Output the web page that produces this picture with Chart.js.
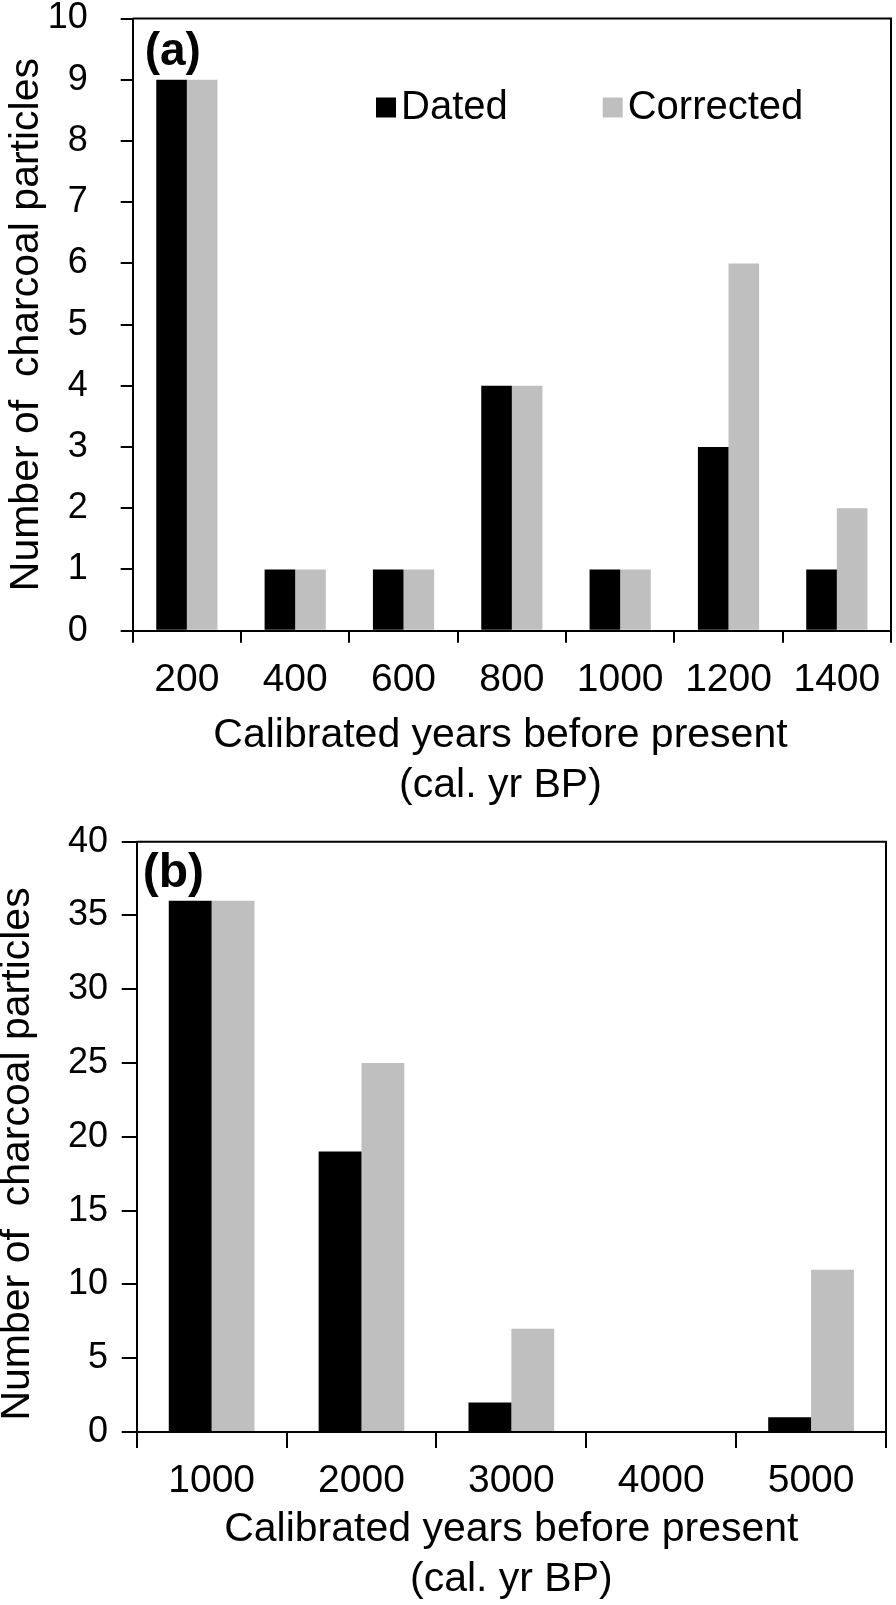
<!DOCTYPE html>
<html><head><meta charset="utf-8">
<script src="https://cdn.jsdelivr.net/npm/chart.js@4.4.0/dist/chart.umd.min.js"></script>
<style>
html,body{margin:0;padding:0;background:#fff;width:896px;height:1605px;overflow:hidden}
.box{position:absolute;left:0;width:896px}
#boxA{top:0;height:812px}
#boxB{top:812px;height:793px}
</style></head><body>
<div class="box" id="boxA"><canvas id="chartA"></canvas></div>
<div class="box" id="boxB"><canvas id="chartB"></canvas></div>
<script>
// ---- data ----
const seriesNames = ['Dated', 'Corrected'];
const seriesColors = ['#000000', '#bfbfbf'];
const categoriesA = ['200', '400', '600', '800', '1000', '1200', '1400'];
const datedA = [9, 1, 1, 4, 1, 3, 1];
const correctedA = [9, 1, 1, 4, 1, 6, 2];
const yRangeA = [0, 10, 1];
const categoriesB = ['1000', '2000', '3000', '4000', '5000'];
const datedB = [36, 19, 2, 0, 1];
const correctedB = [36, 25, 7, 0, 11];
const yRangeB = [0, 40, 5];
const panelLabels = ['(a)', '(b)'];
const xTitle = ['Calibrated years before present', '(cal. yr BP)'];
const yTitle = 'Number of  charcoal particles';

const FONT = "'Liberation Sans', Arial, Helvetica, sans-serif";

const framePlugin = {
  id: 'frame',
  afterDraw(chart) {
    const {ctx, chartArea: ca} = chart;
    ctx.save();
    ctx.strokeStyle = '#000';
    ctx.lineWidth = 2;
    ctx.beginPath();
    ctx.moveTo(ca.left, ca.top);
    ctx.lineTo(ca.right, ca.top);
    ctx.lineTo(ca.right, ca.bottom);
    ctx.stroke();
    ctx.restore();
  }
};

const annotPlugin = {
  id: 'annot',
  afterDraw(chart, args, opts) {
    const {ctx, chartArea: ca} = chart;
    ctx.save();
    ctx.fillStyle = '#000';
    ctx.font = 'bold ' + opts.panelSize + 'px ' + FONT;
    ctx.textAlign = 'left';
    ctx.textBaseline = 'middle';
    ctx.fillText(opts.panel, ca.left + opts.panelDx, ca.top + opts.panelDy);
    if (opts.legend) {
      const L = opts.legend;
      ctx.font = L.size + 'px ' + FONT;
      chart.data.datasets.forEach((ds, i) => {
        const x = ca.left + L.xs[i];
        const y = ca.top + L.dy;
        ctx.fillStyle = ds.backgroundColor;
        ctx.fillRect(x, y - L.box / 2, L.box, L.box);
        ctx.fillStyle = '#000';
        ctx.fillText(ds.label, x + L.box + L.gap, y);
      });
    }
    ctx.restore();
  }
};

function makeChart(id, cats, dated, corrected, yRange, P) {
  return new Chart(document.getElementById(id), {
    type: 'bar',
    data: {
      labels: cats,
      datasets: [
        {label: seriesNames[0], data: dated, backgroundColor: seriesColors[0], borderWidth: 0},
        {label: seriesNames[1], data: corrected, backgroundColor: seriesColors[1], borderWidth: 0}
      ]
    },
    options: {
      responsive: true,
      maintainAspectRatio: false,
      animation: false,
      devicePixelRatio: 1,
      layout: {padding: {top: P.padTop, right: P.padRight, left: 0, bottom: 0}},
      datasets: {bar: {categoryPercentage: P.catPct, barPercentage: 1.0}},
      plugins: {
        legend: {display: false},
        tooltip: {enabled: false},
        annot: P.annot
      },
      scales: {
        x: {
          afterFit: s => { s.height = P.xHeight; s.paddingLeft = 0; s.paddingRight = 0; },
          grid: {display: true, drawOnChartArea: false, drawTicks: true, tickLength: P.xTick, color: '#000', lineWidth: 2, offset: true},
          border: {display: true, color: '#000', width: 2},
          ticks: {color: '#000', font: {family: FONT, size: 39, lineHeight: 1.2}, padding: P.xTickPad, autoSkip: false, maxRotation: 0},
          title: {display: true, text: xTitle.map(t => t + P.xTitleTrail), color: '#000', font: {family: FONT, size: 41, lineHeight: '50px'}, padding: {top: 0, bottom: P.xTitlePadB}}
        },
        y: {
          afterFit: s => { s.width = P.yWidth; s.paddingTop = 0; s.paddingBottom = 0; },
          min: yRange[0], max: yRange[1],
          grid: {display: true, drawOnChartArea: false, drawTicks: true, tickLength: P.yTick, color: '#000', lineWidth: 2},
          border: {display: true, color: '#000', width: 2},
          ticks: {stepSize: yRange[2], color: '#000', font: {family: FONT, size: 36}, padding: P.yTickPad, autoSkip: false},
          title: {display: true, text: yTitle + P.yTitleTrail, color: '#000', font: {family: FONT, size: 41, lineHeight: P.yTitleLH}, padding: {top: P.yTitlePadT, bottom: 0}}
        }
      }
    },
    plugins: [framePlugin, annotPlugin]
  });
}

makeChart('chartA', categoriesA, datedA, correctedA, yRangeA, {
  padTop: 18.5, padRight: 5, catPct: 0.565,
  xHeight: 812 - 630.7, xTick: 12, xTickPad: 14, xTitlePadB: 1, xTitleTrail: '\u00a0\u00a0',
  yWidth: 132.7, yTick: 12, yTickPad: 33, yTitleLH: '42px', yTitlePadT: 6,
  yTitleTrail: '',
  annot: {panel: panelLabels[0], panelSize: 46, panelDx: 12, panelDy: 33.5,
          legend: {size: 40, box: 20, gap: 5, dy: 89, xs: [243.3, 470]}}
});

makeChart('chartB', categoriesB, datedB, correctedB, yRangeB, {
  padTop: 29.7, padRight: 10, catPct: 0.572,
  xHeight: 793 - 620, xTick: 16, xTickPad: 10.3, xTitlePadB: 0, xTitleTrail: '',
  yWidth: 136.7, yTick: 15, yTickPad: 13.7, yTitleLH: '36px', yTitlePadT: 0,
  yTitleTrail: '\u00a0\u00a0\u00a0',
  annot: {panel: panelLabels[1], panelSize: 48, panelDx: 6, panelDy: 32.5, legend: null}
});
</script>
</body></html>
